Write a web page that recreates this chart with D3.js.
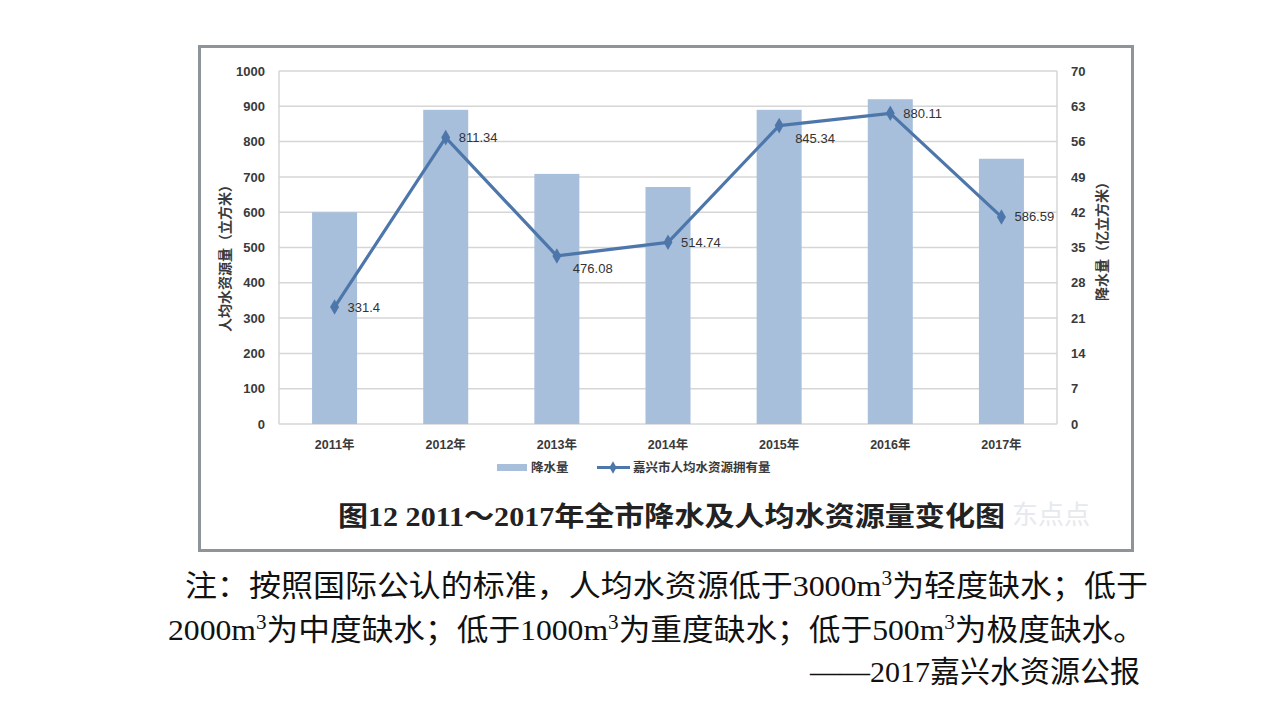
<!DOCTYPE html>
<html><head><meta charset="utf-8">
<script src="https://cdn.jsdelivr.net/npm/d3@7"></script>
<style>
html,body{margin:0;padding:0;background:#fff;}
svg{display:block;}
</style></head>
<body>
<svg id="c" width="1280" height="720"></svg>
<script>
const years = ["2011年","2012年","2013年","2014年","2015年","2016年","2017年"];
const rainfall = [42.0, 62.3, 49.6, 47.0, 62.3, 64.4, 52.6];            // 降水量（亿立方米）
const perCapita = [331.4, 811.34, 476.08, 514.74, 845.34, 880.11, 586.59]; // 人均水资源量（立方米）
const perCapitaLabels = ["331.4","811.34","476.08","514.74","845.34","880.11","586.59"];
const leftTicks = [0,100,200,300,400,500,600,700,800,900,1000];
const rightTicks = [0,7,14,21,28,35,42,49,56,63,70];
const seriesNames = ["降水量","嘉兴市人均水资源拥有量"];
const titleText = "图12  2011～2017年全市降水及人均水资源量变化图";
const leftTitle = "人均水资源量（立方米）";
const rightTitle = "降水量（亿立方米）";

const svg = d3.select("#c");
const sans = "'Liberation Sans','Noto Sans CJK SC',sans-serif";
const serif = "'Liberation Serif','Noto Sans CJK SC',serif";

// frame
svg.append("rect").attr("x",199.5).attr("y",46.5).attr("width",933).attr("height",504)
  .attr("fill","#fff").attr("stroke","#8d9599").attr("stroke-width",3);

const L = 279, R = 1057, T = 71, B = 424;
const x = d3.scaleBand().domain(years).range([L,R]).paddingInner(0.595).paddingOuter(0.2975);
const yL = d3.scaleLinear().domain([0,1000]).range([B,T]);
const yR = d3.scaleLinear().domain([0,70]).range([B,T]);

// gridlines
svg.append("g").selectAll("line").data(leftTicks).join("line")
  .attr("x1",L).attr("x2",R).attr("y1",d=>yL(d)).attr("y2",d=>yL(d))
  .attr("stroke","#d6d6d6").attr("stroke-width",1.5);
// side axis lines
svg.append("line").attr("x1",L).attr("x2",L).attr("y1",T).attr("y2",B).attr("stroke","#d6d6d6").attr("stroke-width",1.5);
svg.append("line").attr("x1",R).attr("x2",R).attr("y1",T).attr("y2",B).attr("stroke","#d6d6d6").attr("stroke-width",1.5);

// axes
const axL = svg.append("g").attr("transform",`translate(${L},0)`)
  .call(d3.axisLeft(yL).tickValues(leftTicks).tickFormat(d3.format("d")).tickSize(0).tickPadding(14));
const axR = svg.append("g").attr("transform",`translate(${R},0)`)
  .call(d3.axisRight(yR).tickValues(rightTicks).tickFormat(d3.format("d")).tickSize(0).tickPadding(14));
const axB = svg.append("g").attr("transform",`translate(0,${B})`)
  .call(d3.axisBottom(x).tickSize(0).tickPadding(16));
[axL,axR,axB].forEach(a=>{
  a.select(".domain").remove();
  a.selectAll("text").attr("font-family",sans).attr("font-size",13).attr("font-weight","bold").attr("fill","#3a3a3a");
});
axB.selectAll("text").attr("font-size",12.5);

// bars
svg.append("g").selectAll("rect").data(rainfall).join("rect")
  .attr("x",(d,i)=>x(years[i])).attr("width",x.bandwidth())
  .attr("y",d=>yR(d)).attr("height",d=>B-yR(d))
  .attr("fill","#a8bfdb");

// line
const cx = i => x(years[i]) + x.bandwidth()/2;
const line = d3.line().x((d,i)=>cx(i)).y(d=>yL(d));
svg.append("path").datum(perCapita).attr("d",line)
  .attr("fill","none").attr("stroke","#4d77ab").attr("stroke-width",3.2).attr("stroke-linejoin","round");
const diamond = d3.symbol().type(d3.symbolDiamond).size(70);
svg.append("g").selectAll("path").data(perCapita).join("path")
  .attr("d",diamond).attr("transform",(d,i)=>`translate(${cx(i)},${yL(d)})`)
  .attr("fill","#4d77ab");

// data labels
const labelBelow = [false,false,true,false,true,false,false];
svg.append("g").selectAll("text").data(perCapita).join("text")
  .attr("x",(d,i)=>cx(i) + (labelBelow[i]?16:13))
  .attr("y",(d,i)=>yL(d) + (labelBelow[i]?13:0))
  .attr("dy","0.35em")
  .attr("font-family",sans).attr("font-size",13).attr("fill","#333")
  .text((d,i)=>perCapitaLabels[i]);

// axis titles
svg.append("text").attr("transform","translate(225,255) rotate(-90)")
  .attr("text-anchor","middle").attr("dy","0.35em")
  .attr("font-family",sans).attr("font-size",14).attr("font-weight","bold").attr("fill","#3a3a3a")
  .text(leftTitle);
svg.append("text").attr("transform","translate(1102,238) rotate(-90)")
  .attr("text-anchor","middle").attr("dy","0.35em")
  .attr("font-family",sans).attr("font-size",14).attr("font-weight","bold").attr("fill","#3a3a3a")
  .text(rightTitle);

// legend
const lg = svg.append("g");
lg.append("rect").attr("x",497).attr("y",464).attr("width",30).attr("height",7).attr("fill","#a8bfdb");
lg.append("text").attr("x",531).attr("y",467.5).attr("dy","0.35em")
  .attr("font-family",sans).attr("font-size",12.5).attr("font-weight","bold").attr("fill","#3a3a3a").text(seriesNames[0]);
lg.append("line").attr("x1",597).attr("x2",630).attr("y1",467.5).attr("y2",467.5).attr("stroke","#4d77ab").attr("stroke-width",3);
lg.append("path").attr("d",d3.symbol().type(d3.symbolDiamond).size(45)).attr("transform","translate(613,467.5)").attr("fill","#4d77ab");
lg.append("text").attr("x",633).attr("y",467.5).attr("dy","0.35em")
  .attr("font-family",sans).attr("font-size",12.5).attr("font-weight","bold").attr("fill","#3a3a3a").text(seriesNames[1]);

// chart title
svg.append("text").attr("x",338).attr("y",526).attr("textLength",667).attr("lengthAdjust","spacingAndGlyphs")
  .attr("font-family",serif).attr("font-size",27).attr("font-weight","bold").attr("fill","#222")
  .text(titleText);

// watermark
svg.append("text").attr("x",1012).attr("y",524).attr("font-family",sans).attr("font-size",26)
  .attr("fill","#e6e9ed").text("东点点");

// notes
const noteFont = serif;
function noteLine(xp, yp, parts, len){
  const t = svg.append("text").attr("x",xp).attr("y",yp)
    .attr("font-family",noteFont).attr("font-size",30).attr("fill","#111");
  if(len) t.attr("textLength",len).attr("lengthAdjust","spacingAndGlyphs");
  parts.forEach(p=>{
    const s = t.append("tspan").text(p[0]);
    if(p[1]) s.attr("font-size",20).attr("dy",-11);
    if(p[2]) s.attr("dy",11);
  });
  return t;
}
noteLine(185,596,[["注：按照国际公认的标准，人均水资源低于3000m"],["3",true],["为轻度缺水；低于",false,true]],963);
noteLine(168,640,[["2000m"],["3",true],["为中度缺水；低于1000m",false,true],["3",true],["为重度缺水；低于500m",false,true],["3",true],["为极度缺水。",false,true]],977);
svg.append("text").attr("x",1140).attr("y",682).attr("text-anchor","end")
  .attr("font-family",noteFont).attr("font-size",30).attr("fill","#111").text("——2017嘉兴水资源公报");
</script>
</body></html>
